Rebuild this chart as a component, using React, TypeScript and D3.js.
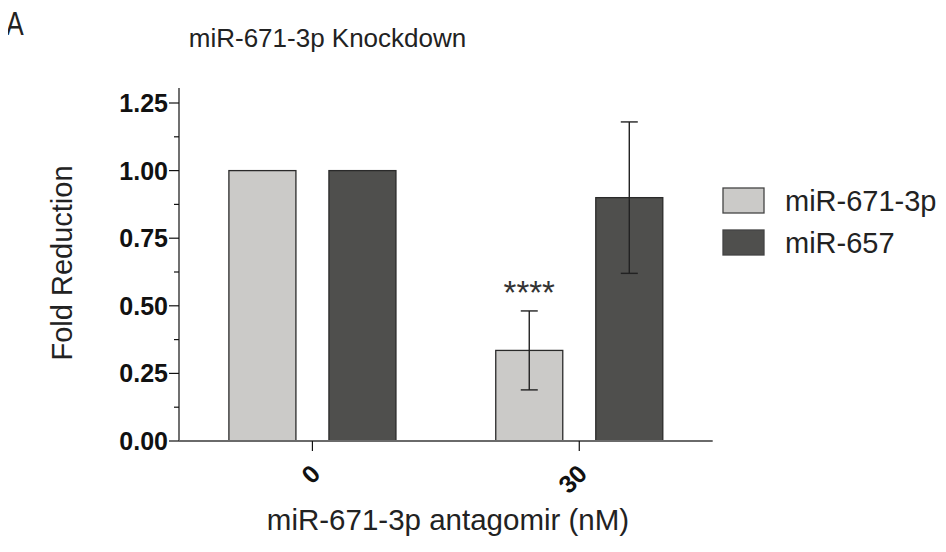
import * as d3 from "d3";
import { useEffect, useRef } from "react";

const categories = ["0", "30"];
const seriesNames = ["miR-671-3p", "miR-657"];
const means = [
  [1.0, 0.335],
  [1.0, 0.9],
];
const errors = [
  [0, 0.146],
  [0, 0.28],
];
const stars = ["", "****"];
const yTicks = [0, 0.25, 0.5, 0.75, 1.0, 1.25];
const yMinorTicks = [0.125, 0.375, 0.625, 0.875, 1.125];

const colors = ["#cbcac8", "#4f4f4d"];
const FONT = "'Liberation Sans', Arial, sans-serif";

export default function App() {
  const ref = useRef<SVGSVGElement | null>(null);

  useEffect(() => {
    const svg = d3.select(ref.current);
    svg.selectAll("*").remove();

    const left = 179;
    const right = 712.7;
    const bottom = 441;
    const top = 103;

    const y = d3.scaleLinear().domain([0, 1.25]).range([bottom, top]);

    const x0 = d3
      .scaleBand()
      .domain(categories)
      .range([left, right])
      .paddingInner(0.374)
      .paddingOuter(0.187);

    const x1 = d3
      .scaleBand()
      .domain(seriesNames)
      .range([0, x0.bandwidth()])
      .paddingInner(0.33);

    // title and panel letter
    svg
      .append("text")
      .attr("x", 0)
      .attr("y", 0)
      .attr("font-size", 34)
      .attr("font-family", FONT)
      .attr("fill", "#222")
      .attr("transform", "translate(6,35) scale(0.78,1)")
      .text("A");

    svg
      .append("text")
      .attr("x", 327.5)
      .attr("y", 47)
      .attr("text-anchor", "middle")
      .attr("font-size", 26)
      .attr("font-family", FONT)
      .attr("fill", "#222")
      .text("miR-671-3p Knockdown");

    // bars
    const groups = svg
      .append("g")
      .selectAll("g")
      .data(categories)
      .join("g")
      .attr("transform", (d) => `translate(${x0(d)},0)`);

    groups.each(function (cat, ci) {
      const g = d3.select(this);
      seriesNames.forEach((s, si) => {
        const v = means[si][ci];
        const bx = x1(s) as number;
        const bw = x1.bandwidth();
        g.append("rect")
          .attr("x", bx)
          .attr("y", y(v))
          .attr("width", bw)
          .attr("height", y(0) - y(v))
          .attr("fill", colors[si])
          .attr("stroke", "#2a2a2a")
          .attr("stroke-width", 1.3);

        const e = errors[si][ci];
        if (e > 0) {
          const cx = bx + bw / 2;
          g.append("line")
            .attr("x1", cx)
            .attr("x2", cx)
            .attr("y1", y(v + e))
            .attr("y2", y(v - e))
            .attr("stroke", "#222")
            .attr("stroke-width", 1.4);
          [v + e, v - e].forEach((yy) => {
            g.append("line")
              .attr("x1", cx - 8.5)
              .attr("x2", cx + 8.5)
              .attr("y1", y(yy))
              .attr("y2", y(yy))
              .attr("stroke", "#222")
              .attr("stroke-width", 1.4);
          });
        }
        if (si === 0 && stars[ci]) {
          g.append("text")
            .attr("x", bx + bw / 2)
            .attr("y", y(v + e) - 7)
            .attr("text-anchor", "middle")
            .attr("font-size", 33)
            .attr("font-family", FONT)
            .attr("fill", "#333")
            .text(stars[ci]);
        }
      });
    });

    // y axis
    svg
      .append("line")
      .attr("x1", left)
      .attr("x2", left)
      .attr("y1", bottom)
      .attr("y2", 88)
      .attr("stroke", "#111")
      .attr("stroke-width", 1.2);

    const yAxis = svg.append("g");
    yTicks.forEach((t) => {
      yAxis
        .append("line")
        .attr("x1", left - 10)
        .attr("x2", left)
        .attr("y1", y(t))
        .attr("y2", y(t))
        .attr("stroke", "#111")
        .attr("stroke-width", 1.2);
      yAxis
        .append("text")
        .attr("x", left - 11)
        .attr("y", y(t))
        .attr("dy", "0.36em")
        .attr("text-anchor", "end")
        .attr("font-size", 25)
        .attr("font-weight", "bold")
        .attr("font-family", FONT)
        .attr("fill", "#111")
        .text(d3.format(".2f")(t));
    });
    yMinorTicks.forEach((t) => {
      yAxis
        .append("line")
        .attr("x1", left - 5)
        .attr("x2", left)
        .attr("y1", y(t))
        .attr("y2", y(t))
        .attr("stroke", "#111")
        .attr("stroke-width", 1.2);
    });

    // x axis
    svg
      .append("line")
      .attr("x1", left)
      .attr("x2", right)
      .attr("y1", bottom)
      .attr("y2", bottom)
      .attr("stroke", "#6a6a6a")
      .attr("stroke-width", 2);

    categories.forEach((c) => {
      const cx = (x0(c) as number) + x0.bandwidth() / 2;
      svg
        .append("line")
        .attr("x1", cx)
        .attr("x2", cx)
        .attr("y1", bottom)
        .attr("y2", bottom + 10)
        .attr("stroke", "#111")
        .attr("stroke-width", 1.2);
      svg
        .append("text")
        .attr("transform", `translate(${cx - 3},${bottom + 22}) rotate(-45)`)
        .attr("text-anchor", "end")
        .attr("dy", "0.7em")
        .attr("font-size", 25)
        .attr("font-weight", "bold")
        .attr("font-family", FONT)
        .attr("fill", "#111")
        .text(c);
    });

    // axis titles
    svg
      .append("text")
      .attr("transform", `translate(72,263) rotate(-90)`)
      .attr("text-anchor", "middle")
      .attr("font-size", 29)
      .attr("font-family", FONT)
      .attr("fill", "#222")
      .text("Fold Reduction");

    svg
      .append("text")
      .attr("x", 448)
      .attr("y", 530)
      .attr("text-anchor", "middle")
      .attr("font-size", 29.5)
      .attr("font-family", FONT)
      .attr("fill", "#222")
      .text("miR-671-3p antagomir (nM)");

    // legend
    const legend = svg.append("g").attr("transform", "translate(723,188)");
    seriesNames.forEach((s, i) => {
      legend
        .append("rect")
        .attr("x", 0)
        .attr("y", i * 42)
        .attr("width", 41)
        .attr("height", 25)
        .attr("fill", colors[i])
        .attr("stroke", "#444")
        .attr("stroke-width", 1.3);
      legend
        .append("text")
        .attr("x", 62)
        .attr("y", i * 42 + 12.5)
        .attr("dy", "0.36em")
        .attr("font-size", 29)
        .attr("font-family", FONT)
        .attr("fill", "#222")
        .text(s);
    });
  }, []);

  return (
    <div style={{ margin: -8 }}>
      <svg ref={ref} width={946} height={552} style={{ display: "block", background: "#fff" }} />
    </div>
  );
}
